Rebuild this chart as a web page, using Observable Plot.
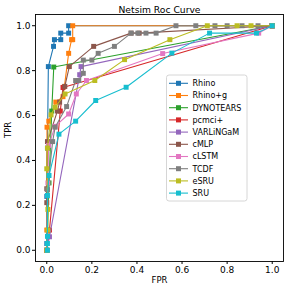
<!DOCTYPE html>
<html><head><meta charset="utf-8">
<script src="https://cdn.jsdelivr.net/npm/d3@7"></script>
<script src="https://cdn.jsdelivr.net/npm/@observablehq/plot@0.6"></script>
<style>
body{margin:0;background:#fff;}
#chart{position:relative;width:287px;height:290px;}
svg{font-family:"DejaVu Sans",sans-serif;}
</style></head>
<body><div id="chart"></div>
<script>
const title = "Netsim Roc Curve";
const xLabel = "FPR";
const yLabel = "TPR";
const ticks = [0, 0.2, 0.4, 0.6, 0.8, 1.0];
const seriesNames = ["Rhino","Rhino+g","DYNOTEARS","pcmci+","VARLiNGaM","cMLP","cLSTM","TCDF","eSRU","SRU"];
const seriesColors = ["#1f77b4","#ff7f0e","#2ca02c","#d62728","#9467bd","#8c564b","#e377c2","#7f7f7f","#bcbd22","#17becf"];

const rhino = [[0,0.03],[0,0.24],[0.003,0.455],[0.007,0.818],[0.03,0.908],[0.034,0.938],[0.062,0.938],[0.062,0.967],[0.097,0.967],[0.097,1.0],[1,1]];
const rhinoG = [[0,0.09],[0.001,0.548],[0.009,0.575],[0.04,0.66],[0.072,0.684],[0.078,0.729],[0.097,0.877],[0.11,0.938],[0.115,0.938],[0.115,1.0],[1,1]];
const dynotears = [[0,0],[0.01,0.3],[0.022,0.62],[0.031,0.816],[1,1]];
const pcmci = [[0,0],[0.012,0.09],[0.06,0.62],[0.072,0.725],[1,1]];
const varlingam = [[0,0],[0.012,0.06],[0.146,0.782],[0.152,0.818],[1,1]];
const cmlp = [[0,0.212],[0,0.274],[0.003,0.484],[0.047,0.62],[0.057,0.66],[0.08,0.73],[0.1,0.818],[0.208,0.908],[0.374,0.967],[0.41,0.967],[1,1]];
const clstm = [[0,0],[0.005,0.3],[0.008,0.467],[0.037,0.552],[0.097,0.607],[0.131,0.696],[0.176,0.756],[0.514,0.876],[0.94,0.967],[1,1]];
const tcdf = [[0,0],[0.003,0.27],[0.026,0.484],[0.037,0.548],[0.088,0.64],[0.128,0.756],[0.142,0.756],[0.162,0.788],[0.162,0.847],[0.2,0.847],[0.228,0.877],[0.3,0.908],[0.374,0.967],[0.404,0.967],[0.44,0.967],[0.485,0.967],[0.573,1.0],[0.661,1.0],[0.746,1.0],[0.8,1.0],[0.866,1.0],[0.937,1.0],[1,1]];
const esru = [[0,0],[0.005,0.09],[0.005,0.182],[0,0.363],[0.003,0.455],[0.019,0.603],[0.037,0.637],[0.081,0.696],[0.213,0.756],[0.345,0.849],[0.546,0.938],[0.712,1.0],[0.844,1.0],[0.906,1.0],[1,1]];
const sru = [[0.003,0],[0.003,0.03],[0.003,0.062],[0.003,0.244],[0.01,0.333],[0.054,0.517],[0.128,0.575],[0.217,0.667],[0.352,0.726],[0.555,0.878],[0.722,0.967],[0.93,0.967],[1,1]];

const allSeries = [rhino, rhinoG, dynotears, pcmci, varlingam, cmlp, clstm, tcdf, esru, sru];

const marks = [];
allSeries.forEach((pts, i) => {
  const data = pts.map(([x, y]) => ({x, y}));
  marks.push(Plot.line(data, {x: "x", y: "y", stroke: seriesColors[i], strokeWidth: 1.1}));
  marks.push(Plot.dot(data, {x: "x", y: "y", symbol: "square", r: 2.8, fill: seriesColors[i], stroke: "none"}));
});

const chart = Plot.plot({
  width: 287, height: 290,
  marginLeft: 35, marginRight: 4, marginTop: 14, marginBottom: 29,
  style: {fontFamily: "DejaVu Sans, sans-serif", background: "#fff", color: "#000"},
  x: {domain: [-0.05, 1.05]},
  y: {domain: [-0.05, 1.05]},
  marks: [
    ...marks,
    Plot.frame({stroke: "#000", strokeWidth: 0.9}),
    Plot.axisX({ticks, tickFormat: d3.format(".1f"), tickSize: 3, tickPadding: 2, fontSize: 9, label: null}),
    Plot.axisY({ticks, tickFormat: d3.format(".1f"), tickSize: 3, tickPadding: 2, fontSize: 9, label: null}),
    Plot.text([xLabel], {frameAnchor: "bottom", dy: 21, fontSize: 8.5, text: d => d, fill: "#000"}),
    Plot.text([yLabel], {frameAnchor: "left", dx: -27, rotate: -90, fontSize: 8.5, text: d => d, fill: "#000"}),
    Plot.text([title], {frameAnchor: "top", dy: -8.5, fontSize: 9.2, text: d => d, fill: "#000"})
  ]
});
document.getElementById("chart").appendChild(chart);

// legend overlay
const svg = d3.select(chart);
const lg = svg.append("g").attr("font-family", "DejaVu Sans, sans-serif").attr("font-size", 8).attr("text-anchor", "start");
const lx = 166.5, ly = 75, lw = 80.5, lh = 126;
lg.append("rect").attr("x", lx).attr("y", ly).attr("width", lw).attr("height", lh)
  .attr("rx", 2.5).attr("fill", "#fff").attr("fill-opacity", 0.8).attr("stroke", "#ccc").attr("stroke-width", 0.8);
seriesNames.forEach((name, i) => {
  const yy = 83.3 + i * 12.2;
  lg.append("line").attr("x1", 169).attr("x2", 188).attr("y1", yy).attr("y2", yy)
    .attr("stroke", seriesColors[i]).attr("stroke-width", 1.1);
  lg.append("rect").attr("x", 178.5 - 2.5).attr("y", yy - 2.5).attr("width", 5).attr("height", 5).attr("fill", seriesColors[i]);
  lg.append("text").attr("x", 192.5).attr("y", yy).attr("dy", "0.35em").attr("text-anchor", "start").attr("fill", "#000").text(name);
});
</script></body></html>
